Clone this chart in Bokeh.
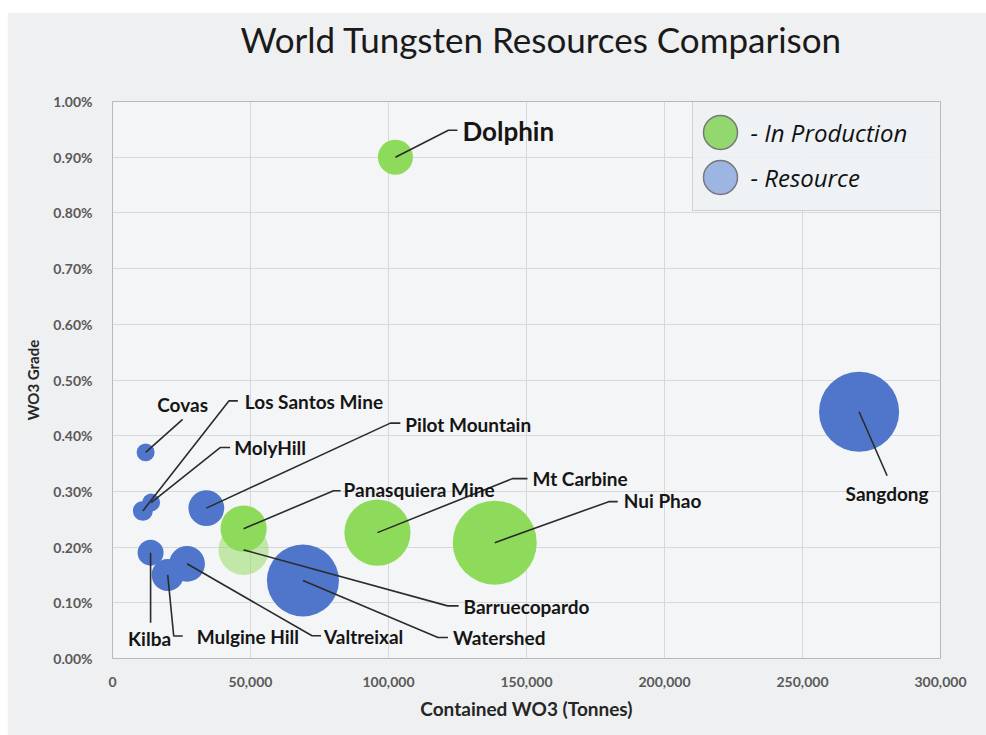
from bokeh.plotting import figure
from bokeh.models import (ColumnDataSource, Range1d, FixedTicker, NumeralTickFormatter,
                          PrintfTickFormatter, BoxAnnotation, Label)
from bokeh.core.properties import value
from bokeh.embed import file_html
from bokeh.resources import INLINE

# ---------------- data ----------------
names = ["Dolphin", "Covas", "Sangdong", "Nui Phao", "Mt Carbine", "Watershed",
         "Barruecopardo", "Panasquiera Mine", "Pilot Mountain", "Los Santos Mine",
         "MolyHill", "Mulgine Hill", "Kilba", "Valtreixal"]
contained_wo3 = [102500, 12000, 270500, 138500, 96000, 69000,
                 47500, 47500, 34000, 11000,
                 14000, 20000, 13800, 27000]
grade_pct = [0.90, 0.37, 0.443, 0.208, 0.226, 0.14,
             0.195, 0.233, 0.27, 0.265,
             0.28, 0.15, 0.19, 0.17]
ore_mt = [11.5, 3.0, 60.0, 66.0, 41.0, 48.5,
          23.5, 20.0, 12.0, 3.7,
          3.0, 9.6, 6.3, 12.0]
status = ["In Production", "Resource", "Resource", "In Production", "In Production", "Resource",
          "In Production", "In Production", "Resource", "Resource",
          "Resource", "Resource", "Resource", "Resource"]

x_ticks = [0, 50000, 100000, 150000, 200000, 250000, 300000]
y_ticks = [0.0, 0.1, 0.2, 0.3, 0.4, 0.5, 0.6, 0.7, 0.8, 0.9, 1.0]
legend_labels = ["- In Production", "- Resource"]
title_text = "World Tungsten Resources Comparison"

# ---------------- layout / style ----------------
MARGIN = (12, 0, 0, 7)          # white strip above and to the left
W, H = 979, 723
BL, BT = 105, 89
FW, FH = 828, 557
BR, BB = W - BL - FW, H - BT - FH
X_MAX, Y_MAX = 300000, 1.0
PX_X = X_MAX / FW          # data units per pixel (x)
PX_Y = Y_MAX / FH          # data units per pixel (y)

GREEN = "#8edb5c"
BLUE = "#4f76ca"
colors = {"In Production": GREEN, "Resource": BLUE}
faded = {"Barruecopardo"}

# label placement: pixel offsets from the bubble centre (x right, y down)
LAB = {
    "Dolphin":          dict(path=[(53, -27), (62, -27)], text=(67, -26), align="left", size="26px"),
    "Covas":            dict(path=[(37, -33)], text=(37, -48), align="center"),
    "Los Santos Mine":  dict(path=[(86, -110), (95, -110)], text=(102, -109), align="left"),
    "MolyHill":         dict(path=[(69, -55), (79, -55)], text=(83, -55), align="left"),
    "Pilot Mountain":   dict(path=[(184, -85), (194, -85)], text=(199, -84), align="left"),
    "Panasquiera Mine": dict(path=[(90, -38), (97, -38)], text=(100, -39), align="left"),
    "Barruecopardo":    dict(path=[(204, 56), (215, 56)], text=(220, 57), align="left"),
    "Mt Carbine":       dict(path=[(135, -54), (150, -54)], text=(155, -54), align="left"),
    "Nui Phao":         dict(path=[(114, -41), (123, -41)], text=(129, -42), align="left"),
    "Sangdong":         dict(path=[(28, 64)], text=(28, 82), align="center"),
    "Kilba":            dict(path=[(0, 70)], text=(-1, 86), align="center"),
    "Mulgine Hill":     dict(path=[(6, 61), (15, 61)], text=(29, 62), align="left"),
    "Valtreixal":       dict(path=[(125, 72), (134, 72)], text=(137, 73), align="left"),
    "Watershed":        dict(path=[(135, 57), (145, 57)], text=(150, 57), align="left"),
}

K = 5.17  # px radius per sqrt(Mt)

p = figure(width=W, height=H, output_backend="svg", toolbar_location=None,
           x_range=Range1d(0, X_MAX), y_range=Range1d(0, Y_MAX),
           min_border_left=BL, min_border_right=BR, min_border_top=BT, min_border_bottom=BB,
           background_fill_color="#f4f5f6", border_fill_color="#eff0f1")
p.margin = MARGIN


def px2x(px):
    """pixel offset from frame left -> data x"""
    return px * PX_X


def py2y(py):
    """pixel offset from frame top (down) -> data y"""
    return Y_MAX - py * PX_Y


# title (a trailing blank line lifts it away from the frame)
p.title.text = title_text + "\n"
p.title.text_font = "Lato"
p.title.text_font_style = "normal"
p.title.text_font_size = "35px"
p.title.text_line_height = 1.0
p.title.text_color = "#1a1a1a"
p.title.align = "left"
p.title.offset = 128
p.title.standoff = 0

# axes
p.xaxis.ticker = FixedTicker(ticks=x_ticks)
p.yaxis.ticker = FixedTicker(ticks=y_ticks)
p.xgrid.ticker = FixedTicker(ticks=x_ticks)
p.ygrid.ticker = FixedTicker(ticks=y_ticks)
p.xaxis.formatter = NumeralTickFormatter(format="0,0")
p.yaxis.formatter = PrintfTickFormatter(format="%.2f%%")
p.xaxis.axis_label = "Contained WO3 (Tonnes)"
p.yaxis.axis_label = "WO3 Grade"
for ax in (p.xaxis, p.yaxis):
    ax.axis_line_color = None
    ax.major_tick_line_color = None
    ax.minor_tick_line_color = None
    ax.major_label_text_font = "Lato"
    ax.major_label_text_font_style = "bold"
    ax.major_label_text_font_size = "14px"
    ax.major_label_text_color = "#595959"
    ax.axis_label_text_font = "Lato"
    ax.axis_label_text_font_style = "bold"
    ax.axis_label_text_color = "#262626"
p.xaxis.major_label_standoff = 12
p.xaxis.axis_label_standoff = 7
p.xaxis.axis_label_text_font_size = "19px"
p.yaxis.major_label_standoff = 14
p.yaxis.axis_label_standoff = 8
p.yaxis.axis_label_text_font_size = "15px"
p.grid.grid_line_color = "#d6d8da"
p.grid.grid_line_width = 1
p.outline_line_color = "#b8b8b8"
p.outline_line_width = 1

# legend box (underlay, so bubbles and key circles sit above it)
box = BoxAnnotation(left=px2x(580), right=X_MAX, top=Y_MAX, bottom=py2y(109),
                    fill_color="#eef1f5", fill_alpha=0.88, line_color="#7f7f7f",
                    line_width=1, level="underlay")
p.add_layout(box)

# bubbles
src = ColumnDataSource(dict(
    x=contained_wo3, y=grade_pct, name=names,
    size=[2 * K * v ** 0.5 for v in ore_mt],
    color=[colors[s] for s in status],
    alpha=[0.5 if n in faded else 1.0 for n in names],
))
p.scatter("x", "y", source=src, size="size", fill_color="color", fill_alpha="alpha",
          line_color=None)

# leader lines and labels
xs, ys, tx, ty, tt, ta, tsz = [], [], [], [], [], [], []
for n, xv, yv in zip(names, contained_wo3, grade_pct):
    spec = LAB[n]
    lx = [xv] + [xv + dx * PX_X for dx, dy in spec["path"]]
    ly = [yv] + [yv - dy * PX_Y for dx, dy in spec["path"]]
    xs.append(lx)
    ys.append(ly)
    tx.append(xv + spec["text"][0] * PX_X)
    ty.append(yv - spec["text"][1] * PX_Y)
    tt.append(n)
    ta.append(spec["align"])
    tsz.append(spec.get("size", "19px"))
p.multi_line(xs, ys, line_color="#2b2b2b", line_width=1.6)
p.text(x=tx, y=ty, text=tt, text_align=ta, text_baseline="middle",
       text_font=value("Lato"), text_font_style="bold", text_font_size=tsz,
       text_color="#151515")

# legend key circles and texts
leg_y = [py2y(31), py2y(76)]
p.scatter([px2x(608), px2x(608)], leg_y, size=34,
          fill_color=["#92d86e", "#9cb5e3"], line_color="#777777", line_width=1.5)
for lab, yy in zip(legend_labels, leg_y):
    p.add_layout(Label(x=px2x(638), y=yy, text=lab, text_font="Open Sans",
                       text_font_style="italic", text_font_size="24px",
                       text_baseline="middle", text_color="#111111"))

open("out.html", "w").write(file_html(p, INLINE))
